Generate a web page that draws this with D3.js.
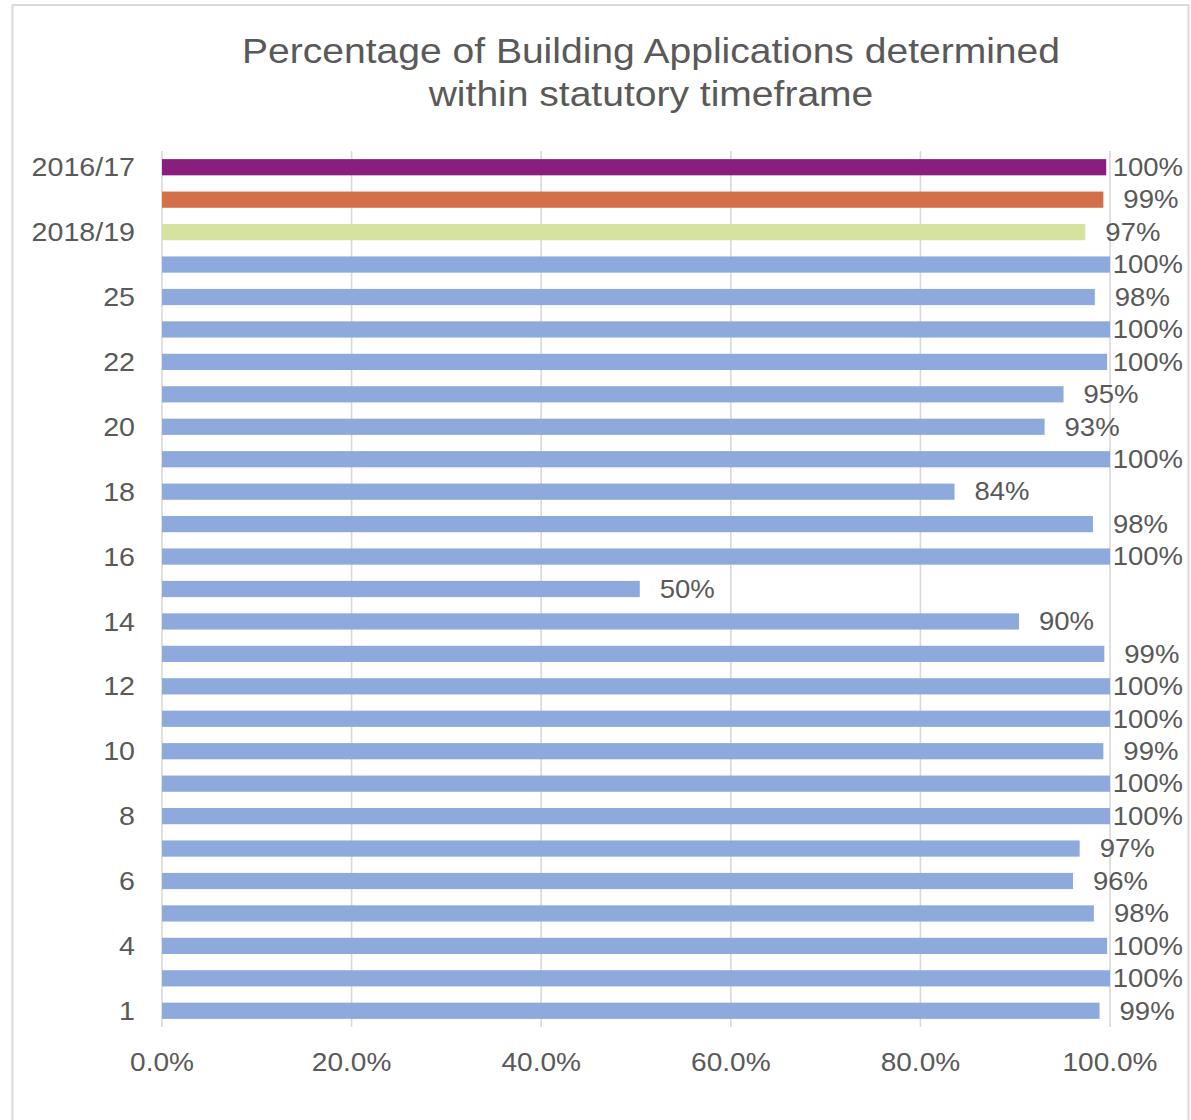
<!DOCTYPE html>
<html>
<head>
<meta charset="utf-8">
<script src="https://cdn.jsdelivr.net/npm/d3@7"></script>
<style>
  body { margin: 0; background: #fff; }
  text { font-family: "Liberation Sans", Arial, sans-serif; fill: #595959; }
</style>
</head>
<body>
<div id="chart"></div>
<script>
// categories listed top to bottom, as drawn
var categories = ["2016/17", "2017/18", "2018/19", "26", "25", "23", "22", "21", "20", "19",
                  "18", "17", "16", "15", "14", "13", "12", "11", "10", "9",
                  "8", "7", "6", "5", "4", "2", "1"];
var values = [99.6, 99.3, 97.4, 100, 98.4, 100, 99.7, 95.1, 93.1, 100,
              83.6, 98.2, 100, 50.4, 90.4, 99.4, 100, 100, 99.3, 100,
              100, 96.8, 96.1, 98.3, 99.7, 100, 98.9];
var xTicks = [0, 20, 40, 60, 80, 100];
var titleLines = ["Percentage of Building Applications determined", "within statutory timeframe"];

var yearColor = {"2016/17": "#8a1e7c", "2017/18": "#d2704a", "2018/19": "#d6e3a0"};
var councilColor = "#8eaadc";
var sx = 1.1; // glyphs in the picture are a little wide

var svg = d3.select("#chart")
            .append("svg")
            .attr("width", 1191)
            .attr("height", 1120);

var margin = {top: 151, right: 81, bottom: 93, left: 162},
    width = svg.attr("width") - margin.left - margin.right,
    height = svg.attr("height") - margin.top - margin.bottom;

svg.append("rect")
   .attr("x", 12.5).attr("y", 5)
   .attr("width", 1176).attr("height", 1130)
   .attr("fill", "none")
   .attr("stroke", "#d9d9d9")
   .attr("stroke-width", 2);

svg.selectAll("text.title")
   .data(titleLines)
   .enter()
   .append("text")
   .attr("class", "title")
   .attr("transform", function(d, i) { return "translate(651," + (63 + i * 43) + ") scale(" + sx + ",1)"; })
   .attr("text-anchor", "middle")
   .style("font-size", "35.5px")
   .text(function(d) { return d; });

var g = svg.append("g").attr("transform", "translate(" + margin.left + "," + margin.top + ")");

var x = d3.scaleLinear().domain([0, 100]).range([0, width]);
var y = d3.scaleBand().domain(categories).range([0, height]).paddingInner(0.5).paddingOuter(0.25);

//gridlines
g.selectAll("line.grid")
 .data(xTicks)
 .enter()
 .append("line")
 .attr("class", "grid")
 .attr("x1", function(d) { return x(d); })
 .attr("x2", function(d) { return x(d); })
 .attr("y1", 0)
 .attr("y2", height)
 .attr("stroke", "#d9d9d9")
 .attr("stroke-width", 1.6);

g.selectAll("text.tick")
 .data(xTicks)
 .enter()
 .append("text")
 .attr("class", "tick")
 .attr("transform", function(d) { return "translate(" + x(d) + "," + (height + 44) + ") scale(" + sx + ",1)"; })
 .attr("text-anchor", "middle")
 .style("font-size", "25.5px")
 .text(function(d) { return d3.format(".1f")(d) + "%"; });

g.selectAll("rect.bar")
 .data(categories)
 .enter()
 .append("rect")
 .attr("class", "bar")
 .attr("x", 0)
 .attr("y", function(d) { return y(d); })
 .attr("width", function(d, i) { return x(values[i]); })
 .attr("height", y.bandwidth())
 .attr("fill", function(d) { return yearColor[d] || councilColor; });

// every second category label, as in the original
g.selectAll("text.cat")
 .data(categories)
 .enter()
 .filter(function(d, i) { return i % 2 == 0; })
 .append("text")
 .attr("class", "cat")
 .attr("transform", function(d) { return "translate(-27," + (y(d) + y.bandwidth() / 2) + ") scale(" + sx + ",1)"; })
 .attr("dy", "0.35em")
 .attr("text-anchor", "end")
 .style("font-size", "26px")
 .text(function(d) { return d; });

// data labels: 20px past the bar end, kept inside the chart border
var rightLimit = width + 73;
g.selectAll("text.val")
 .data(categories)
 .enter()
 .append("text")
 .attr("class", "val")
 .attr("dy", "0.35em")
 .style("font-size", "25px")
 .text(function(d, i) { return Math.round(values[i]) + "%"; })
 .attr("transform", function(d, i) {
   var w = this.getComputedTextLength() * sx;
   var lx = Math.min(x(values[i]) + 20, rightLimit - w);
   return "translate(" + lx + "," + (y(d) + y.bandwidth() / 2) + ") scale(" + sx + ",1)";
 });
</script>
</body>
</html>
